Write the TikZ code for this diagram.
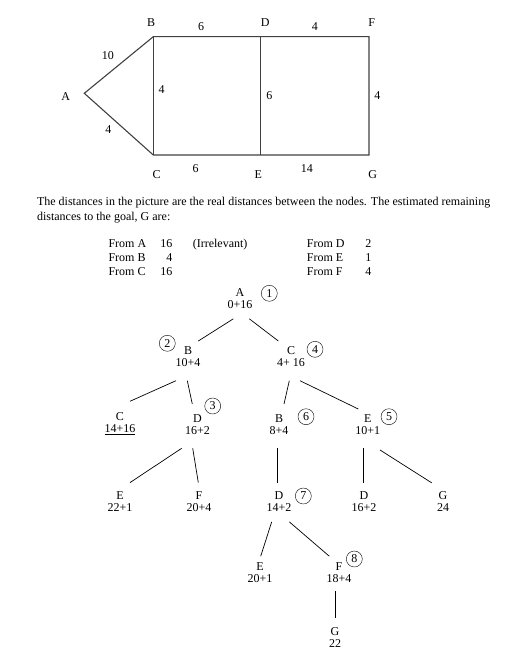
\documentclass[tikz,border=0pt]{standalone}
\usepackage{fontspec}
\setmainfont{Liberation Serif}
\begin{document}
\begin{tikzpicture}[x=1pt,y=-1pt,
	every node/.style={font=\fontsize{12}{12}\selectfont},
	vtx/.style={inner sep=0pt, minimum size=0pt},
	tnode/.style={align=center, inner sep=0pt},
	num/.style={shape=circle, draw, minimum size=16pt, inner sep=0pt},
	road/.style={draw=black!75, line width=1.1pt},
	twig/.style={line width=0.7pt}]
	\useasboundingbox (0,0) rectangle (505,666);
	% the road map
	\node [vtx] (vA) at (84.3,93.3) {};
	\node [vtx] (vB) at (153.3,36.7) {};
	\node [vtx] (vC) at (153.3,155) {};
	\node [vtx] (vD) at (260.7,36.7) {};
	\node [vtx] (vE) at (260.7,155) {};
	\node [vtx] (vF) at (369,36.7) {};
	\node [vtx] (vG) at (369,155) {};
	\node (lA) at (65.7,96.7) {A};
	\node (lB) at (151,22.7) {B};
	\node (lC) at (156.7,174.3) {C};
	\node (lD) at (265.3,22.7) {D};
	\node (lE) at (258.3,174.3) {E};
	\node (lF) at (371.7,22.7) {F};
	\node (lG) at (372.7,174.3) {G};
	\draw [road] (vA.center) -- node[midway,xshift=-11pt,yshift=9pt] {10} (vB.center)
		-- node[midway,xshift=-6pt,yshift=10pt] {6} (vD.center)
		-- node[midway,yshift=10pt] {4} (vF.center)
		-- node[midway,xshift=8.3pt] {4} (vG.center)
		-- node[midway,xshift=-8pt,yshift=-14pt] {14} (vE.center)
		-- node[midway,xshift=-11.3pt,yshift=-14pt] {6} (vC.center)
		-- node[midway,xshift=-10.5pt,yshift=-5pt] {4} cycle;
	\draw [road] (vB) -- node[midway,xshift=8.4pt,yshift=6pt] {4} (vC);
	\draw [road] (vD) -- node[midway,xshift=8.6pt] {6} (vE);
	% text and table
	\node [anchor=base west] (p1) at (33.5,205.5) {The distances in the picture are the real distances between the nodes. The estimated remaining};
	\node [anchor=base west] (p2) at (33.5,220) {distances to the goal, G are:};
	\node [anchor=base west] (fA) at (105,247.5) {From A};
	\node [anchor=base east] (hA) at (176,247.5) {16};
	\node [anchor=base west] (irr) at (189.3,247.5) {(Irrelevant)};
	\node [anchor=base west] (fB) at (105,261) {From B};
	\node [anchor=base east] (hB) at (176,261) {4};
	\node [anchor=base west] (fC) at (105,275) {From C};
	\node [anchor=base east] (hC) at (176,275) {16};
	\node [anchor=base west] (fD) at (303.3,247.5) {From D};
	\node [anchor=base east] (hD) at (375,247.5) {2};
	\node [anchor=base west] (fE) at (303.3,261) {From E};
	\node [anchor=base east] (hE) at (375,261) {1};
	\node [anchor=base west] (fF) at (303.3,275) {From F};
	\node [anchor=base east] (hF) at (375,275) {4};
	% search tree
	\node [tnode] (t1) at (240,298.3) {A\\0+16};
	\node [tnode] (t2) at (188,356.5) {B\\10+4};
	\node [tnode] (t3) at (291,356.5) {C\\4+ 16};
	\node [tnode] (t4) at (120,423.5) {C\\\underline{14+16}};
	\node [tnode] (t5) at (197.5,424.5) {D\\16+2};
	\node [tnode] (t6) at (279,424.5) {B\\8+4};
	\node [tnode] (t7) at (367.7,424.5) {E\\10+1};
	\node [tnode] (t8) at (120,501.7) {E\\22+1};
	\node [tnode] (t9) at (199,501.7) {F\\20+4};
	\node [tnode] (t10) at (279,501.7) {D\\14+2};
	\node [tnode] (t11) at (364,501.7) {D\\16+2};
	\node [tnode] (t12) at (443,501.7) {G\\24};
	\node [tnode] (t13) at (260,573) {E\\20+1};
	\node [tnode] (t14) at (339,573) {F\\18+4};
	\node [tnode] (t15) at (335,637.5) {G\\22};
	\node [num] (c1) at (269.3,293.3) {1};
	\node [num] (c2) at (167.3,343.3) {2};
	\node [num] (c3) at (212.7,406) {3};
	\node [num] (c4) at (315,349.3) {4};
	\node [num] (c5) at (389,416.7) {5};
	\node [num] (c6) at (306,416.7) {6};
	\node [num] (c7) at (303.3,496) {7};
	\node [num] (c8) at (354.3,559) {8};
	\draw [twig] ([xshift=-6.7pt,yshift=-10.3pt]t1.south) -- ([xshift=10.3pt,yshift=5.3pt]t2.north);
	\draw [twig] ([xshift=9.3pt,yshift=-10.3pt]t1.south) -- ([xshift=-12.7pt,yshift=5.3pt]t3.north);
	\draw [twig] ([xshift=-12pt,yshift=-14pt]t2.south) -- ([xshift=10pt,yshift=11pt]t4.north);
	\draw [twig] ([xshift=-0.7pt,yshift=-14pt]t2.south) -- ([xshift=-5.2pt,yshift=10.3pt]t5.north);
	\draw [twig] ([xshift=-1.7pt,yshift=-14pt]t3.south) -- ([xshift=5pt,yshift=10.3pt]t6.north);
	\draw [twig] ([xshift=9pt,yshift=-14pt]t3.south) -- ([xshift=-9.4pt,yshift=5.3pt]t7.north);
	\draw [twig] ([xshift=-15.8pt,yshift=-13.6pt]t5.south) -- ([xshift=10pt,yshift=9pt]t8.north);
	\draw [twig] ([xshift=-4.8pt,yshift=-13.6pt]t5.south) -- ([xshift=-0.7pt,yshift=9pt]t9.north);
	\draw [twig] ([xshift=-1.3pt,yshift=-13.6pt]t6.south) -- ([xshift=-1.3pt,yshift=8.7pt]t10.north);
	\draw [twig] ([xshift=-4.4pt,yshift=-13.6pt]t7.south) -- ([xshift=-0.7pt,yshift=8.7pt]t11.north);
	\draw [twig] ([xshift=12.3pt,yshift=-15.3pt]t7.south) -- ([xshift=-11.3pt,yshift=8.7pt]t12.north);
	\draw [twig] ([xshift=-7.3pt,yshift=-10pt]t10.south) -- ([xshift=0.7pt,yshift=6.6pt]t13.north);
	\draw [twig] ([xshift=10.3pt,yshift=-10pt]t10.south) -- ([xshift=-9.7pt,yshift=6.6pt]t14.north);
	\draw [twig] ([xshift=-4pt,yshift=-7.7pt]t14.south) -- ([xshift=0pt,yshift=9.4pt]t15.north);
\end{tikzpicture}
\end{document}
